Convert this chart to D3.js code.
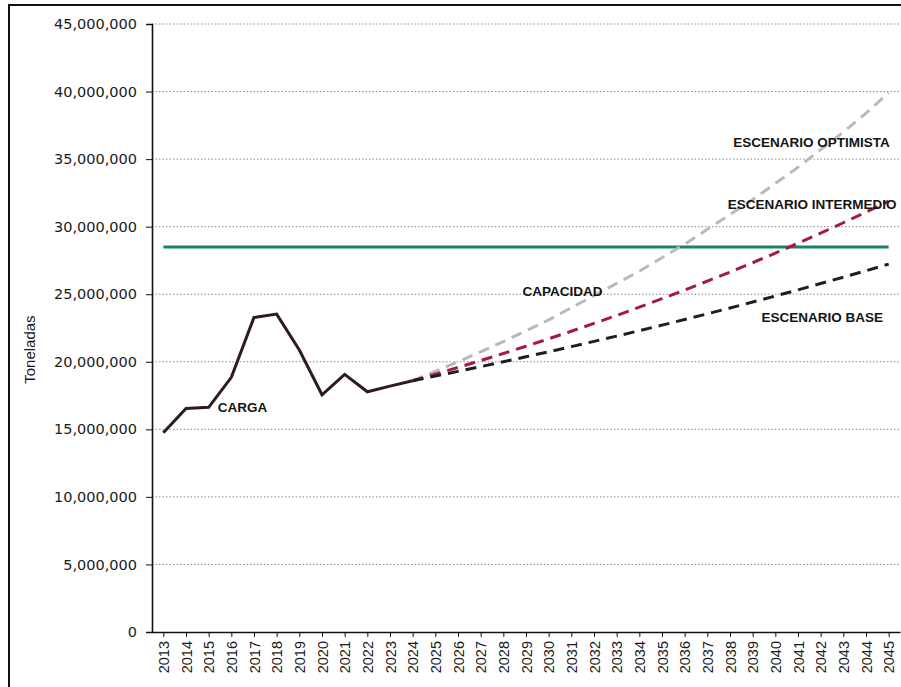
<!DOCTYPE html>
<html>
<head>
<meta charset="utf-8">
<script src="https://cdn.jsdelivr.net/npm/d3@7"></script>
<style>
  body { margin: 0; background: #fff; }
  svg { display: block; }
</style>
</head>
<body>
<svg width="901" height="687"></svg>
<script>
// years on the x axis
var years = d3.range(2013, 2046);
var yTicks = [0, 5e6, 10e6, 15e6, 20e6, 25e6, 30e6, 35e6, 40e6, 45e6];

// historical cargo (tonnes), 2013-2024
var cargaYears = d3.range(2013, 2025);
var carga = [14750000, 16550000, 16630000, 18850000, 23280000, 23530000,
             20870000, 17560000, 19070000, 17780000, 18200000, 18600000];

// projections 2024-2045 (millions of tonnes)
var escYears = d3.range(2024, 2046);
var optimista = [18.6, 19.29, 20.0, 20.74, 21.5, 22.3, 23.1, 24.0, 24.9, 25.8, 26.7,
                 27.7, 28.7, 29.8, 30.9, 32.0, 33.2, 34.4, 35.7, 37.0, 38.4, 39.9];
var intermedio = [18.6, 19.08, 19.58, 20.09, 20.61, 21.15, 21.7, 22.26, 22.84, 23.43, 24.04,
                  24.67, 25.31, 25.97, 26.64, 27.33, 28.04, 28.77, 29.52, 30.29, 31.08, 31.89];
var base = [18.6, 18.94, 19.29, 19.64, 20.0, 20.37, 20.74, 21.12, 21.51, 21.9, 22.3,
            22.71, 23.13, 23.55, 23.98, 24.42, 24.87, 25.32, 25.79, 26.26, 26.74, 27.23];

// capacity, flat over the whole period
var capacidad = years.map(function() { return 28500000; });

var svg = d3.select("svg");

var x = d3.scalePoint()
    .domain(years)
    .range([152, 900])
    .padding(0.5);

var y = d3.scaleLinear()
    .domain([0, 45e6])
    .range([632, 24]);

// frame
svg.append("path")
    .attr("d", "M9,687V5H901")
    .attr("fill", "none")
    .attr("stroke", "#111")
    .attr("stroke-width", 2);

// grid
svg.append("g")
    .selectAll("line")
    .data(yTicks.slice(1))
    .enter().append("line")
    .attr("x1", 152)
    .attr("x2", 900)
    .attr("y1", function(d) { return y(d); })
    .attr("y2", function(d) { return y(d); })
    .attr("stroke", "#8a8a8a")
    .attr("stroke-width", 1)
    .attr("stroke-dasharray", "1.5,2");

// y axis
var yAxis = d3.axisLeft(y)
    .tickValues(yTicks)
    .tickSize(6)
    .tickPadding(9)
    .tickFormat(d3.format(","));

var gy = svg.append("g")
    .attr("transform", "translate(152,0)")
    .call(yAxis);
gy.select(".domain").attr("stroke", "#111").attr("stroke-width", 1.6);
gy.selectAll(".tick line").attr("stroke", "#111");
gy.selectAll("text")
    .attr("font-family", "DejaVu Sans, sans-serif")
    .attr("font-size", "14.5px")
    .attr("fill", "#1a1a1a");

// x axis
var xAxis = d3.axisBottom(x)
    .tickSize(5)
    .tickPadding(7)
    .tickSizeOuter(0);

var gx = svg.append("g")
    .attr("transform", "translate(0,632)")
    .call(xAxis);
gx.select(".domain").attr("stroke", "#111").attr("stroke-width", 1.6);
gx.selectAll(".tick line").attr("stroke", "#111");
gx.selectAll("text")
    .attr("font-family", "Liberation Sans, Arial, sans-serif")
    .attr("font-size", "14.5px")
    .attr("fill", "#1a1a1a")
    .attr("text-anchor", "end")
    .attr("dy", "0.35em")
    .attr("transform", "rotate(-90)")
    .attr("x", -9)
    .attr("y", 0);

// y title
svg.append("text")
    .attr("transform", "translate(35," + y(20.9e6) + ") rotate(-90)")
    .attr("text-anchor", "middle")
    .attr("font-family", "Liberation Sans, Arial, sans-serif")
    .attr("font-size", "15px")
    .attr("fill", "#1a1a1a")
    .text("Toneladas");

var line = d3.line()
    .x(function(d) { return x(d[0]); })
    .y(function(d) { return y(d[1]); });

// capacity
svg.append("path")
    .datum(d3.zip(years, capacidad))
    .attr("d", line)
    .attr("fill", "none")
    .attr("stroke", "#17875a")
    .attr("stroke-width", 3);

// scenarios
var scen = [
    { vals: optimista, color: "#b9b9b9" },
    { vals: intermedio, color: "#a5184a" },
    { vals: base, color: "#1e1e1e" }
];
scen.forEach(function(s) {
    svg.append("path")
        .datum(d3.zip(escYears, s.vals.map(function(v) { return v * 1e6; })))
        .attr("d", line)
        .attr("fill", "none")
        .attr("stroke", s.color)
        .attr("stroke-width", 3)
        .attr("stroke-dasharray", "11,7");
});

// historical
svg.append("path")
    .datum(d3.zip(cargaYears, carga))
    .attr("d", line)
    .attr("fill", "none")
    .attr("stroke", "#2e1a1f")
    .attr("stroke-width", 3)
    .attr("stroke-linejoin", "miter");

// labels (positioned in year / value units)
var labels = [
    { t: "CARGA", yr: 2015.4, v: 16.25e6, a: "start" },
    { t: "CAPACIDAD", yr: 2028.85, v: 24.85e6, a: "start" },
    { t: "ESCENARIO OPTIMISTA", yr: 2045.05, v: 35.9e6, a: "end" },
    { t: "ESCENARIO INTERMEDIO", yr: 2045.35, v: 31.3e6, a: "end" },
    { t: "ESCENARIO BASE", yr: 2044.75, v: 22.95e6, a: "end" }
];
var step = x.step();
svg.append("g")
    .selectAll("text")
    .data(labels)
    .enter().append("text")
    .attr("x", function(d) { return x(2013) + (d.yr - 2013) * step; })
    .attr("y", function(d) { return y(d.v); })
    .attr("text-anchor", function(d) { return d.a; })
    .attr("font-family", "Liberation Sans, Arial, sans-serif")
    .attr("font-weight", "bold")
    .attr("font-size", "13.5px")
    .attr("fill", "#141414")
    .text(function(d) { return d.t; });
</script>
</body>
</html>
